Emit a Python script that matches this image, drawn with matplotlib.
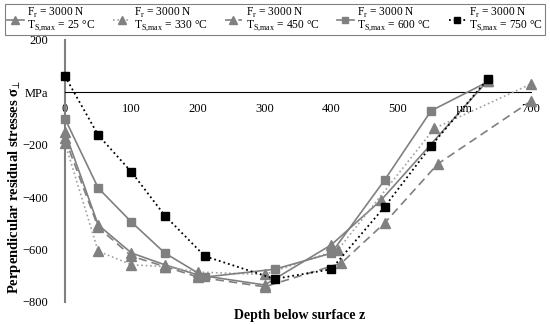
import matplotlib
matplotlib.use("Agg")
import matplotlib.pyplot as plt

plt.rcParams['font.family'] = ['Liberation Serif', 'DejaVu Serif']
plt.rcParams['mathtext.fontset'] = 'custom'
plt.rcParams['mathtext.rm'] = 'Liberation Serif'

# ---- data ----
temps = ["25", "330", "450", "600", "750"]

d25 = [0, 50, 100, 150, 200, 300, 400, 475, 635]
v25 = [-150, -506, -613, -658, -697, -735, -582, -411, 45]

d330 = [0, 50, 100, 150, 200, 300, 410, 555, 700]
v330 = [-193, -606, -658, -665, -686, -695, -601, -137, 32]

d450 = [0, 50, 100, 150, 200, 300, 415, 480, 560, 700]
v450 = [-175, -515, -625, -665, -705, -742, -652, -499, -273, -33]

d600 = [0, 50, 100, 150, 210, 315, 400, 480, 550, 635]
v600 = [-100, -365, -495, -613, -705, -675, -614, -335, -70, 40]

d750 = [0, 50, 100, 150, 210, 315, 400, 480, 550, 635]
v750 = [62, -163, -304, -470, -625, -712, -675, -437, -204, 51]

xticks = [0, 100, 200, 300, 400, 500, 600, 700]
xticklabels = ["0", "100", "200", "300", "400", "500", "µm", "700"]
yticks = [200, 0, -200, -400, -600, -800]
yticklabels = ["200", "MPa", "−200", "−400", "−600", "−800"]

fig = plt.figure(figsize=(5.5, 3.25), dpi=100)
ax = fig.add_axes([0.118, 0.0708, 0.8475, 0.8062])

g = "#808080"
gl = "#a0a0a0"
styles = [
    dict(color=g, ls='-', lw=1.2, marker='^', ms=7, mfc=g, mec=g),
    dict(color=gl, ls=':', lw=1.2, marker='^', ms=7, mfc=g, mec=g),
    dict(color=g, ls=(0, (5, 3)), lw=1.2, marker='^', ms=7, mfc=g, mec=g),
    dict(color=g, ls='-', lw=1.2, marker='s', ms=6, mfc=g, mec=g),
    dict(color='black', ls=':', lw=1.3, marker='s', ms=6, mfc='black', mec='black'),
]
series = [(d25, v25), (d330, v330), (d450, v450), (d600, v600), (d750, v750)]
handles = []
labels = []
for (dd, vv), st, t in zip(series, styles, temps):
    h, = ax.plot(dd, vv, clip_on=False, zorder=3, **st)
    handles.append(h)
    labels.append("F$_\\mathregular{r}$ = 3000 N\nT$_\\mathregular{S{,}max}$ = " + t + " °C")

ax.set_xlim(0, 700)
ax.set_ylim(-800, 200)
for s in ['top', 'right']:
    ax.spines[s].set_visible(False)
ax.spines['bottom'].set_position(('data', 0))
ax.spines['bottom'].set_color('black')
ax.spines['bottom'].set_linewidth(0.8)
ax.spines['left'].set_color(g)
ax.spines['left'].set_linewidth(1.5)
ax.spines['left'].set_zorder(2)

ax.set_xticks(xticks)
ax.set_xticklabels(xticklabels)
ax.set_yticks(yticks)
ax.set_yticklabels(yticklabels)
ax.tick_params(axis='x', length=0, pad=8, labelsize=9)
ax.tick_params(axis='y', length=0, pad=12, labelsize=9)

fig.text(0.027, 0.425, "Perpendicular residual stresses σ$_\\mathregular{⊥}$", rotation=90,
         ha='center', va='center', fontsize=10.5, fontweight='bold')
fig.text(0.545, 0.03, "Depth below surface z", ha='center', va='center',
         fontsize=10, fontweight='bold')

leg = fig.legend(handles, labels, ncol=5, loc='upper center', bbox_to_anchor=(0.5, 0.995),
                 frameon=True, fancybox=False, edgecolor='#606060', fontsize=8.3,
                 handlelength=1.5, handletextpad=0.3, columnspacing=1.5,
                 borderpad=0.15, borderaxespad=0.2, labelspacing=0.1, numpoints=1,
                 markerscale=0.8)
leg.get_frame().set_linewidth(0.8)
for t in leg.get_texts():
    t.set_linespacing(0.85)

fig.savefig("out.png", dpi=100)
